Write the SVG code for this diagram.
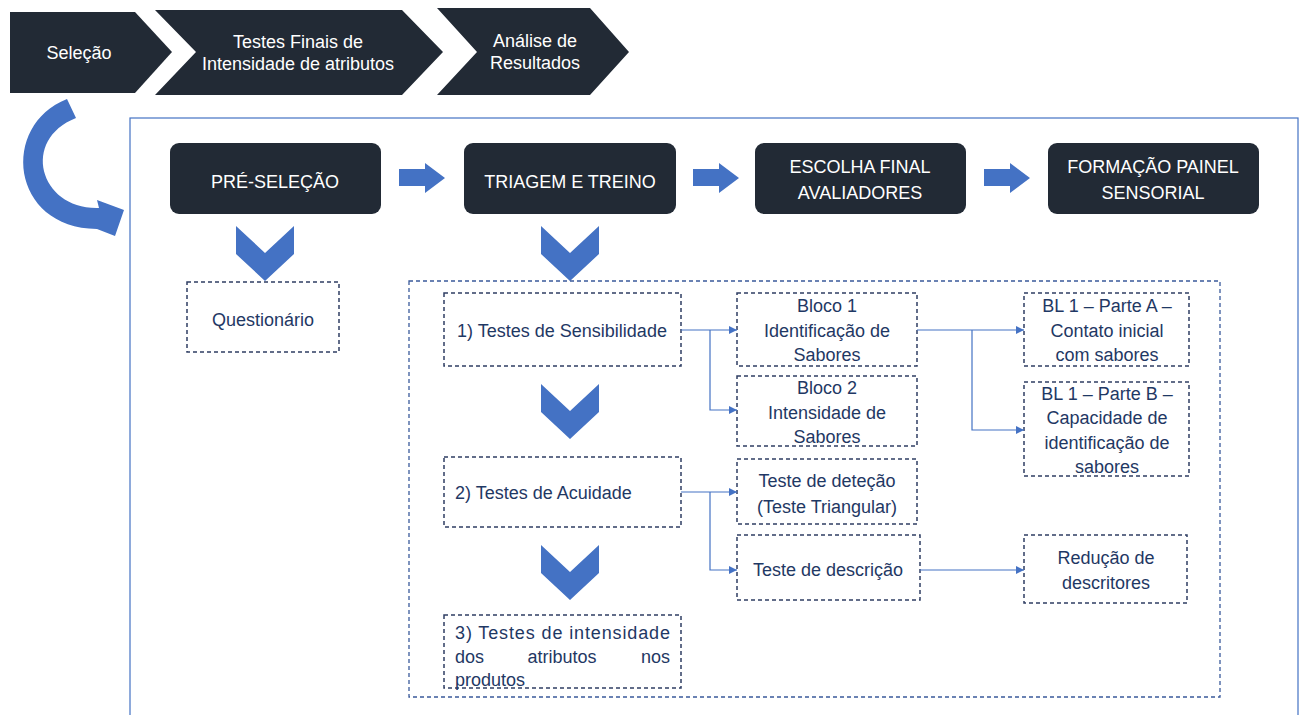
<svg xmlns="http://www.w3.org/2000/svg" width="1303" height="715" viewBox="0 0 1303 715">
<defs>
<style>
.dark{fill:#222A35}
.wt{fill:#ffffff;font-family:"Liberation Sans",Arial,sans-serif;font-size:18px;text-anchor:middle}
.bt{fill:#1F3864;font-family:"Liberation Sans",Arial,sans-serif;font-size:18px;text-anchor:middle}
.dash{fill:#ffffff;stroke:#2F3E63;stroke-width:1.5;stroke-dasharray:4 3}
.cont{fill:none;stroke:#3A5A9B;stroke-width:1.3;stroke-dasharray:4 3}
.blue{fill:#4472C4}
.con{fill:none;stroke:#4472C4;stroke-width:1.2}
</style>
<marker id="ah" viewBox="0 0 10 10" refX="10" refY="5" markerWidth="8" markerHeight="8" markerUnits="userSpaceOnUse" orient="auto">
<path d="M0,0 L10,5 L0,10 Z" fill="#4472C4"/>
</marker>
</defs>
<rect width="1303" height="715" fill="#ffffff"/>

<!-- top chevrons -->
<g id="step-selecao">
<polygon class="dark" points="10,12 135,12 172,52 135,93 10,93"/>
<text class="wt" x="79" y="59">Seleção</text>
</g>
<g id="step-testes-finais">
<polygon class="dark" points="155,10 402,10 443,52 402,95 155,95 196,52"/>
<text class="wt" x="298" y="48">Testes Finais de</text>
<text class="wt" x="298" y="70">Intensidade de atributos</text>
</g>
<g id="step-analise">
<polygon class="dark" points="437,8 590,8 629,52 590,95 437,95 477,52"/>
<text class="wt" x="535" y="47">Análise de</text>
<text class="wt" x="535" y="69">Resultados</text>
</g>

<!-- frame -->
<rect x="130" y="118" width="1168" height="610" fill="none" stroke="#4472C4" stroke-width="1.2"/>

<!-- curved arrow -->
<path class="blue" d="M67,99 C0,125 10,228 97,229 L115,236 L124,210 L97,200 L99,208 C40,210 20,140 76,118 Z"/>

<!-- dark nodes -->
<g id="pre-selecao">
<rect class="dark" x="170" y="143" width="211" height="71" rx="9"/>
<text class="wt" x="275" y="188">PRÉ-SELEÇÃO</text>
</g>
<g id="triagem">
<rect class="dark" x="464" y="143" width="212" height="71" rx="9"/>
<text class="wt" x="570" y="188">TRIAGEM E TREINO</text>
</g>
<g id="escolha">
<rect class="dark" x="755" y="143" width="211" height="71" rx="9"/>
<text class="wt" x="860" y="173">ESCOLHA FINAL</text>
<text class="wt" x="860" y="199">AVALIADORES</text>
</g>
<g id="formacao">
<rect class="dark" x="1048" y="143" width="211" height="71" rx="9"/>
<text class="wt" x="1153" y="173">FORMAÇÃO PAINEL</text>
<text class="wt" x="1153" y="199">SENSORIAL</text>
</g>

<!-- block arrows and chevrons -->
<g id="block-arrows">
<polygon class="blue" points="399,169 425,169 425,163 445,178 425,193 425,186 399,186"/>
<polygon class="blue" points="693,169 719,169 719,163 739,178 719,193 719,186 693,186"/>
<polygon class="blue" points="984,169 1010,169 1010,163 1030,178 1010,193 1010,186 984,186"/>
<polygon class="blue" points="236,226 265,253 294,226 294,254 265,281 236,254"/>
<polygon class="blue" points="541,226 570,253 599,226 599,254 570,281 541,254"/>
<polygon class="blue" points="541,384 570,411 599,384 599,412 570,439 541,412"/>
<polygon class="blue" points="541,545 570,572 599,545 599,573 570,600 541,573"/>
</g>

<!-- container -->
<rect class="cont" x="409" y="281" width="811" height="416"/>

<g id="questionario">
<rect class="dash" x="187" y="282" width="152" height="70"/>
<text class="bt" x="263" y="326">Questionário</text>
</g>
<g id="sensibilidade">
<rect class="dash" x="444" y="293" width="237" height="73"/>
<text class="bt" x="562" y="337">1) Testes de Sensibilidade</text>
</g>
<g id="acuidade">
<rect class="dash" x="444" y="457" width="237" height="70"/>
<text class="bt" x="455" y="499" style="text-anchor:start">2) Testes de Acuidade</text>
</g>
<g id="intensidade">
<rect class="dash" x="444" y="615" width="237" height="73"/>
<text class="bt" x="455" y="639" style="text-anchor:start" textLength="215" lengthAdjust="spacing">3) Testes de intensidade</text>
<text class="bt" x="455" y="663" style="text-anchor:start">dos</text>
<text class="bt" x="562" y="663">atributos</text>
<text class="bt" x="670" y="663" style="text-anchor:end">nos</text>
<text class="bt" x="455" y="686" style="text-anchor:start">produtos</text>
</g>
<g id="bloco1">
<rect class="dash" x="737" y="293" width="180" height="73"/>
<text class="bt" x="827" y="312">Bloco 1</text>
<text class="bt" x="827" y="337">Identificação de</text>
<text class="bt" x="827" y="361">Sabores</text>
</g>
<g id="bloco2">
<rect class="dash" x="737" y="376" width="180" height="70"/>
<text class="bt" x="827" y="394">Bloco 2</text>
<text class="bt" x="827" y="419">Intensidade de</text>
<text class="bt" x="827" y="443">Sabores</text>
</g>
<g id="detecao">
<rect class="dash" x="737" y="459" width="180" height="65"/>
<text class="bt" x="827" y="487">Teste de deteção</text>
<text class="bt" x="827" y="513">(Teste Triangular)</text>
</g>
<g id="descricao">
<rect class="dash" x="737" y="535" width="183" height="65"/>
<text class="bt" x="828" y="576">Teste de descrição</text>
</g>
<g id="parteA">
<rect class="dash" x="1024" y="293" width="165" height="73"/>
<text class="bt" x="1107" y="312">BL 1 – Parte A –</text>
<text class="bt" x="1107" y="337">Contato inicial</text>
<text class="bt" x="1107" y="361">com sabores</text>
</g>
<g id="parteB">
<rect class="dash" x="1024" y="382" width="165" height="94"/>
<text class="bt" x="1107" y="400">BL 1 – Parte B –</text>
<text class="bt" x="1107" y="424">Capacidade de</text>
<text class="bt" x="1107" y="449">identificação de</text>
<text class="bt" x="1107" y="473">sabores</text>
</g>
<g id="reducao">
<rect class="dash" x="1024" y="535" width="163" height="68"/>
<text class="bt" x="1106" y="564">Redução de</text>
<text class="bt" x="1106" y="589">descritores</text>
</g>

<!-- connectors -->
<g id="connectors">
<path class="con" d="M681,330 H737" marker-end="url(#ah)"/>
<path class="con" d="M710,330 V410 H737" marker-end="url(#ah)"/>
<path class="con" d="M917,330 H1024" marker-end="url(#ah)"/>
<path class="con" d="M972,330 V430 H1024" marker-end="url(#ah)"/>
<path class="con" d="M681,492 H737" marker-end="url(#ah)"/>
<path class="con" d="M710,492 V570 H737" marker-end="url(#ah)"/>
<path class="con" d="M920,570 H1024" marker-end="url(#ah)"/>
</g>
</svg>
